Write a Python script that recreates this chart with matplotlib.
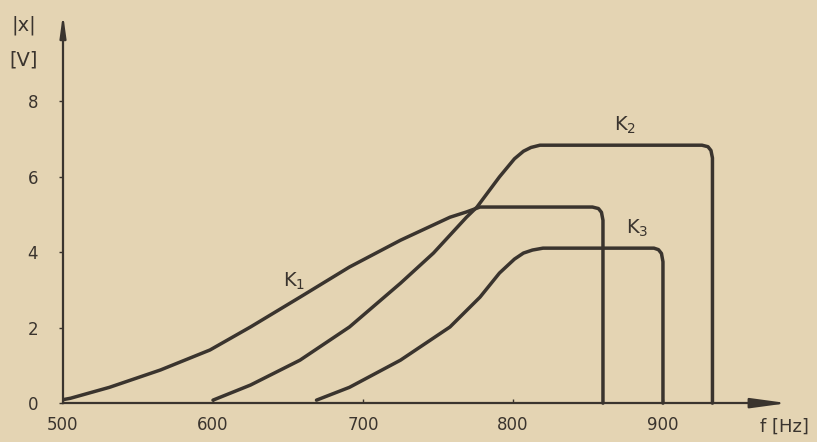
import matplotlib
matplotlib.use("Agg")
import matplotlib.pyplot as plt

# K1, K2, K3 amplitude |x| [V] against frequency f [Hz]
k1_f = [501, 505, 531, 565, 598, 625, 658, 691, 725, 758, 769, 778, 820, 853, 857, 859, 860, 860]
k1_x = [0.10, 0.13, 0.42, 0.88, 1.41, 2.02, 2.81, 3.61, 4.32, 4.93, 5.07, 5.20, 5.20, 5.20,
        5.16, 5.06, 4.85, 0.0]

k2_f = [600, 625, 658, 691, 725, 747, 769, 776, 791, 801, 807, 812, 818, 926, 930, 932, 933, 933]
k2_x = [0.08, 0.48, 1.14, 2.02, 3.18, 3.98, 4.93, 5.20, 6.00, 6.48, 6.68, 6.78, 6.84, 6.84,
        6.80, 6.70, 6.50, 0.0]

k3_f = [669, 691, 725, 758, 778, 791, 801, 807, 813, 820, 894, 897, 899, 900, 900]
k3_x = [0.08, 0.42, 1.14, 2.02, 2.81, 3.45, 3.82, 3.98, 4.06, 4.11, 4.11, 4.07, 3.97, 3.75, 0.0]

x_ticks = [500, 600, 700, 800, 900]
y_ticks = [0, 2, 4, 6, 8]
curve_labels = [("K", "1", 654, 3.24), ("K", "2", 875, 7.37), ("K", "3", 883, 4.64)]

paper = "#e4d4b3"
ink = "#3a342e"

fig = plt.figure(figsize=(8.17, 4.42), dpi=100)
fig.patch.set_facecolor(paper)
ax = fig.add_axes([0, 0, 1, 1])
ax.set_facecolor(paper)

# pixel mapping: 500 Hz at x=63, 150 px per 100 Hz; 0 V at y=403, 37.7 px per V
ax.set_xlim(458.0, 1002.7)
ax.set_ylim(-1.03, 10.69)

for f, x in [(k1_f, k1_x), (k2_f, k2_x), (k3_f, k3_x)]:
    ax.plot(f, x, color=ink, lw=2.5, solid_joinstyle="round", solid_capstyle="round")

for side in ["top", "right"]:
    ax.spines[side].set_visible(False)
ax.spines["left"].set_position(("data", 500))
ax.spines["bottom"].set_position(("data", 0))
ax.spines["left"].set_bounds(0, 9.9)
ax.spines["bottom"].set_bounds(500, 965)
for side in ["left", "bottom"]:
    ax.spines[side].set_color(ink)
    ax.spines[side].set_linewidth(1.6)

# arrow heads on both axes
ax.annotate("", xy=(983, 0), xytext=(962, 0),
            arrowprops=dict(arrowstyle="-|>,head_length=2.2,head_width=0.3",
                            color=ink, lw=1.6, shrinkA=0, shrinkB=0))
ax.annotate("", xy=(500, 10.32), xytext=(500, 9.85),
            arrowprops=dict(arrowstyle="-|>,head_length=1.3,head_width=0.18",
                            color=ink, lw=1.6, shrinkA=0, shrinkB=0))

ax.set_xticks(x_ticks)
ax.set_yticks(y_ticks)
ax.set_xticklabels([str(t) for t in x_ticks])
ax.set_yticklabels([str(t) for t in y_ticks])
ax.tick_params(axis="x", direction="in", length=3, width=1, color=ink,
               labelcolor=ink, labelsize=12, pad=9)
ax.tick_params(axis="y", direction="out", length=3, width=1, color=ink,
               labelcolor=ink, labelsize=12, pad=15)

ax.text(474, 10.03, "|x|", color=ink, fontsize=14, ha="center", va="center")
ax.text(474, 9.1, "[V]", color=ink, fontsize=14, ha="center", va="center")
ax.text(997, -0.63, "f [Hz]", color=ink, fontsize=13, ha="right", va="center")

for name, sub, fx, fy in curve_labels:
    ax.text(fx, fy, rf"{name}$_{{\mathregular{{{sub}}}}}$", color=ink,
            fontsize=14, ha="center", va="center")

fig.savefig("out.png", dpi=100, facecolor=paper)
